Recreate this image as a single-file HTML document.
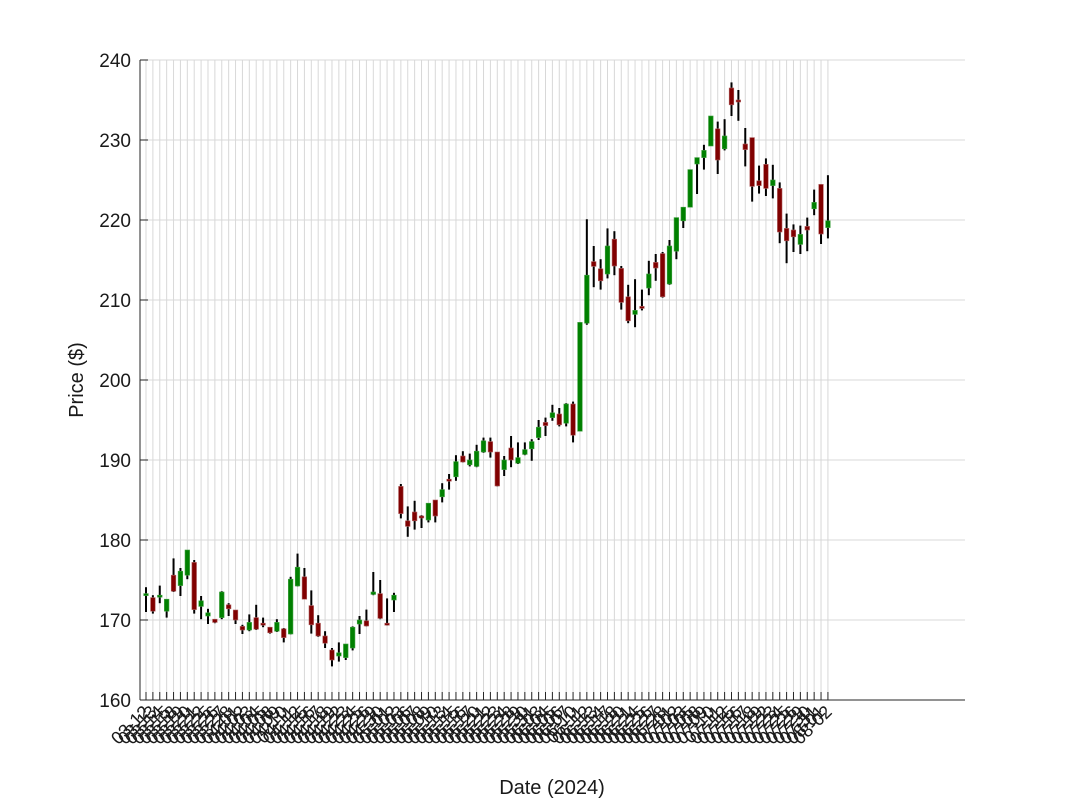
<!DOCTYPE html>
<html><head><meta charset="utf-8"><style>
html,body{margin:0;padding:0;background:#fff;}
svg{display:block;font-family:"Liberation Sans",Arial,sans-serif;}
</style></head><body>
<svg id="chart" width="1067" height="800" viewBox="0 0 1067 800">
<g id="grid"></g>
<g id="candles"></g>
<g id="axes"></g>
<text x="0" y="0" transform="translate(83,380) rotate(-90)" text-anchor="middle" font-size="20" fill="#1a1a1a">Price ($)</text>
<text x="552" y="794" text-anchor="middle" font-size="20" fill="#1a1a1a">Date (2024)</text>
</svg>
<script>
const opens  = [173.1,172.8,172.9,171.1,175.6,174.3,175.6,177.2,171.7,170.5,170.1,170.3,171.9,171.25,169.2,168.75,170.3,169.6,169.1,168.6,168.9,168.25,174.25,175.4,171.8,169.6,168.0,166.25,165.5,165.3,166.5,169.5,169.9,173.2,173.3,169.6,172.5,186.7,182.4,183.5,183.0,182.5,185.0,185.4,187.6,187.9,190.5,189.4,189.2,191.0,192.3,191.0,188.8,191.5,189.6,190.7,191.4,192.8,194.7,195.3,195.75,194.6,197.0,193.6,207.1,214.8,213.9,213.25,217.6,213.95,210.4,208.2,209.2,211.5,214.7,215.8,212.0,216.1,219.9,221.6,227.0,227.8,229.25,231.4,228.9,236.5,235.0,229.5,230.3,224.9,226.95,224.3,223.95,218.95,218.75,216.95,219.2,221.4,224.45,219.05];
const highs  = [174.1,173.1,174.3,172.6,177.7,176.5,178.75,177.5,173.0,171.4,170.1,173.6,172.1,171.25,169.4,170.7,171.9,170.3,169.1,170.1,169.0,175.4,178.3,176.5,173.7,170.6,168.6,166.5,167.2,167.0,169.2,170.5,171.3,176.0,175.0,172.7,173.4,187.0,184.2,184.9,183.1,184.6,185.0,187.1,188.25,190.6,191.1,190.8,191.9,192.8,192.8,191.0,190.5,193.0,192.2,192.2,192.6,195.0,195.3,196.9,196.5,197.1,197.3,207.2,220.1,216.75,215.1,218.95,218.6,214.25,211.9,212.6,211.3,214.9,215.75,216.0,217.5,220.3,221.6,226.3,227.8,229.4,233.0,232.3,232.6,237.2,236.25,231.5,230.3,226.8,227.7,226.9,224.7,220.8,219.45,219.3,220.3,223.8,224.45,225.6];
const lows   = [171.0,170.8,172.1,170.3,173.5,173.0,175.1,170.8,170.1,169.5,169.6,170.1,170.5,169.5,168.25,168.6,168.75,169.1,168.3,168.5,167.2,168.2,174.2,172.6,168.3,167.9,166.5,164.2,164.8,165.0,166.2,168.25,169.2,173.1,170.1,169.3,171.0,182.7,180.4,181.3,181.5,182.2,182.2,184.7,186.3,187.4,189.7,189.2,189.1,190.9,190.3,186.7,188.0,189.1,189.5,190.6,189.9,192.5,193.0,194.9,194.2,194.2,192.2,193.6,206.9,211.6,211.3,212.7,213.1,208.8,207.1,206.6,208.7,210.6,212.4,210.3,211.9,215.1,219.0,221.6,223.25,226.3,229.25,225.75,228.7,233.0,232.4,226.7,222.3,223.3,223.0,222.7,217.1,214.6,216.0,215.75,216.1,220.6,217.0,217.7];
const closes = [173.3,171.1,173.1,172.6,173.6,176.1,178.75,171.3,172.4,170.9,169.7,173.5,171.4,170.0,168.75,169.7,168.85,169.4,168.4,169.7,167.8,175.1,176.6,172.6,169.4,168.0,167.1,165.0,165.9,167.0,169.1,170.0,169.25,173.5,170.2,169.4,173.1,183.3,181.7,182.4,182.8,184.6,183.0,186.3,187.4,189.8,189.75,190.0,191.1,192.4,191.0,186.75,190.0,190.0,190.3,191.3,192.3,194.1,194.3,195.9,194.4,197.0,193.1,207.2,213.1,214.2,212.4,216.75,214.25,209.7,207.4,208.7,209.1,213.25,214.0,210.4,216.75,220.3,221.6,226.3,227.8,228.7,233.0,227.5,230.5,234.4,234.9,228.8,224.2,224.3,223.95,225.0,218.5,217.4,217.9,218.2,218.75,222.2,218.25,219.9];
const yTicks = [160,170,180,190,200,210,220,230,240];
const holidays = ["2024-03-29","2024-05-27","2024-06-19","2024-07-04"];

const dates = [];
(function(){
  let d = new Date(Date.UTC(2024,7,2));
  while (dates.length < opens.length) {
    const iso = d.toISOString().slice(0,10);
    const wd = d.getUTCDay();
    if (wd !== 0 && wd !== 6 && holidays.indexOf(iso) < 0) dates.unshift(iso.slice(5));
    d = new Date(d.getTime() - 86400000);
  }
})();

const L=140, R=965, T=60, B=700;
const xMin=-0.87, xMax=118.9, yMin=160, yMax=240;
const xs = i => L + (i - xMin) / (xMax - xMin) * (R - L);
const ys = v => B - (v - yMin) / (yMax - yMin) * (B - T);
const NS = "http://www.w3.org/2000/svg";
function mk(tag, attrs, parent){ const e=document.createElementNS(NS,tag); for(const k in attrs) e.setAttribute(k,attrs[k]); parent.appendChild(e); return e; }

const grid = document.getElementById('grid');
const axes = document.getElementById('axes');
const cg = document.getElementById('candles');

yTicks.forEach(v=>{
  const y=ys(v);
  const g=mk('line',{x1:L,x2:R,y1:y,y2:y,stroke:'#d8d8d8','stroke-width':1},grid);
  
  
  const t=mk('line',{x1:L,x2:L+8,y1:y,y2:y,stroke:'#262626','stroke-width':1},axes);
  
  
  const tx=mk('text',{x:L-9,y:y+7,'text-anchor':'end','font-size':19,fill:'#1a1a1a'},axes);
  tx.textContent=v;
  
  
});

dates.forEach((d,i)=>{
  const x=xs(i);
  const g=mk('line',{x1:x,x2:x,y1:T,y2:B,stroke:'#d8d8d8','stroke-width':1},grid);
  
  
  const t=mk('line',{x1:x,x2:x,y1:B,y2:B-8,stroke:'#262626','stroke-width':1},axes);
  
  
  const tx=mk('text',{x:0,y:0,transform:`translate(${x+5},${B+13}) rotate(-45)`,'text-anchor':'end','font-size':18,fill:'#1a1a1a'},axes);
  tx.textContent=d;
  
  
});

mk('line',{x1:L,x2:L,y1:T,y2:B,stroke:'#262626','stroke-width':1},axes);
mk('line',{x1:L,x2:R,y1:B,y2:B,stroke:'#262626','stroke-width':1},axes);

opens.forEach((o,i)=>{
  const c=closes[i], x=xs(i), up=c>=o;
  const w=mk('line',{x1:x,x2:x,y1:ys(highs[i]),y2:ys(lows[i]),stroke:'#000','stroke-width':2},cg);
  
  
  const top=ys(Math.max(o,c)), bot=ys(Math.min(o,c));
  const b=mk('rect',{x:x-2.3,y:top,width:4.6,height:Math.max(bot-top,2),fill:up?'#008000':'#800000',stroke:up?'#40a040':'#b06060','stroke-width':0.6},cg);
  
  
});
</script>
</body></html>
